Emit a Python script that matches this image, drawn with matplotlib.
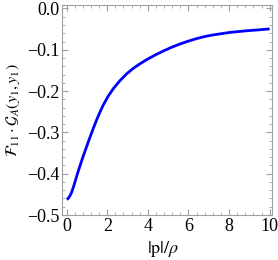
import matplotlib.pyplot as plt
from matplotlib.ticker import MultipleLocator

plt.rcParams['font.family'] = ['Liberation Serif', 'DejaVu Serif']
plt.rcParams['mathtext.fontset'] = 'stix'

# values
p_over_rho = [0.0, 0.05, 0.10, 0.18, 0.26, 0.34, 0.42, 0.50, 0.59, 0.67, 0.75, 0.84,
              0.92, 1.00, 1.08, 1.20, 1.33, 1.49, 1.65, 1.80, 2.05, 2.30, 2.62, 2.96,
              3.28, 3.61, 3.94, 4.35, 4.76, 5.17, 5.58, 6.00, 6.40, 6.80, 7.22, 7.63,
              8.04, 8.45, 8.87, 9.40, 10.0]
f11_ga = [-0.462, -0.461, -0.458, -0.452, -0.443, -0.431, -0.418, -0.405, -0.391,
          -0.379, -0.367, -0.354, -0.343, -0.332, -0.321, -0.305, -0.288, -0.268,
          -0.250, -0.234, -0.212, -0.194, -0.175, -0.158, -0.145, -0.134, -0.124,
          -0.113, -0.103, -0.094, -0.086, -0.079, -0.073, -0.068, -0.064, -0.061,
          -0.058, -0.056, -0.054, -0.052, -0.0495]

x_ticks = [0, 2, 4, 6, 8, 10]
y_ticks = [0.0, -0.1, -0.2, -0.3, -0.4, -0.5]
y_labels = ['0.0', '\u22120.1', '\u22120.2', '\u22120.3', '\u22120.4', '\u22120.5']

fig = plt.figure(figsize=(2.78, 2.6), dpi=100)
ax = fig.add_axes([0.223, 0.173, 0.755, 0.808])
ax.plot(p_over_rho, f11_ga, color='#0000ff', lw=2, solid_capstyle='butt')

ax.set_xlim(-0.23, 10.11)
ax.set_ylim(-0.5, 0.0085)
ax.set_xticks(x_ticks)
ax.set_yticks(y_ticks)
ax.set_yticklabels(y_labels)
ax.xaxis.set_minor_locator(MultipleLocator(0.4))
ax.yaxis.set_minor_locator(MultipleLocator(0.02))

for s in ax.spines.values():
    s.set_color('#a0a0a0')
    s.set_linewidth(0.8)
ax.tick_params(which='both', direction='in', top=True, right=True,
               color='#a0a0a0', labelsize=13, pad=2)
ax.tick_params(which='major', length=4, width=0.8)
ax.tick_params(which='minor', length=2, width=0.6)

ax.set_xlabel(r'$|\mathrm{p}|/\rho$', fontsize=13)
ax.xaxis.set_label_coords(0.48, -0.115)
ax.xaxis.label.set_va('top')
ax.set_ylabel(r'$\mathcal{F}_{11}\cdot\mathcal{G}_A(y_1,y_1)$', fontsize=11.5)
ax.yaxis.set_label_coords(-0.19, 0.5)

fig.savefig('out.png', dpi=100)
